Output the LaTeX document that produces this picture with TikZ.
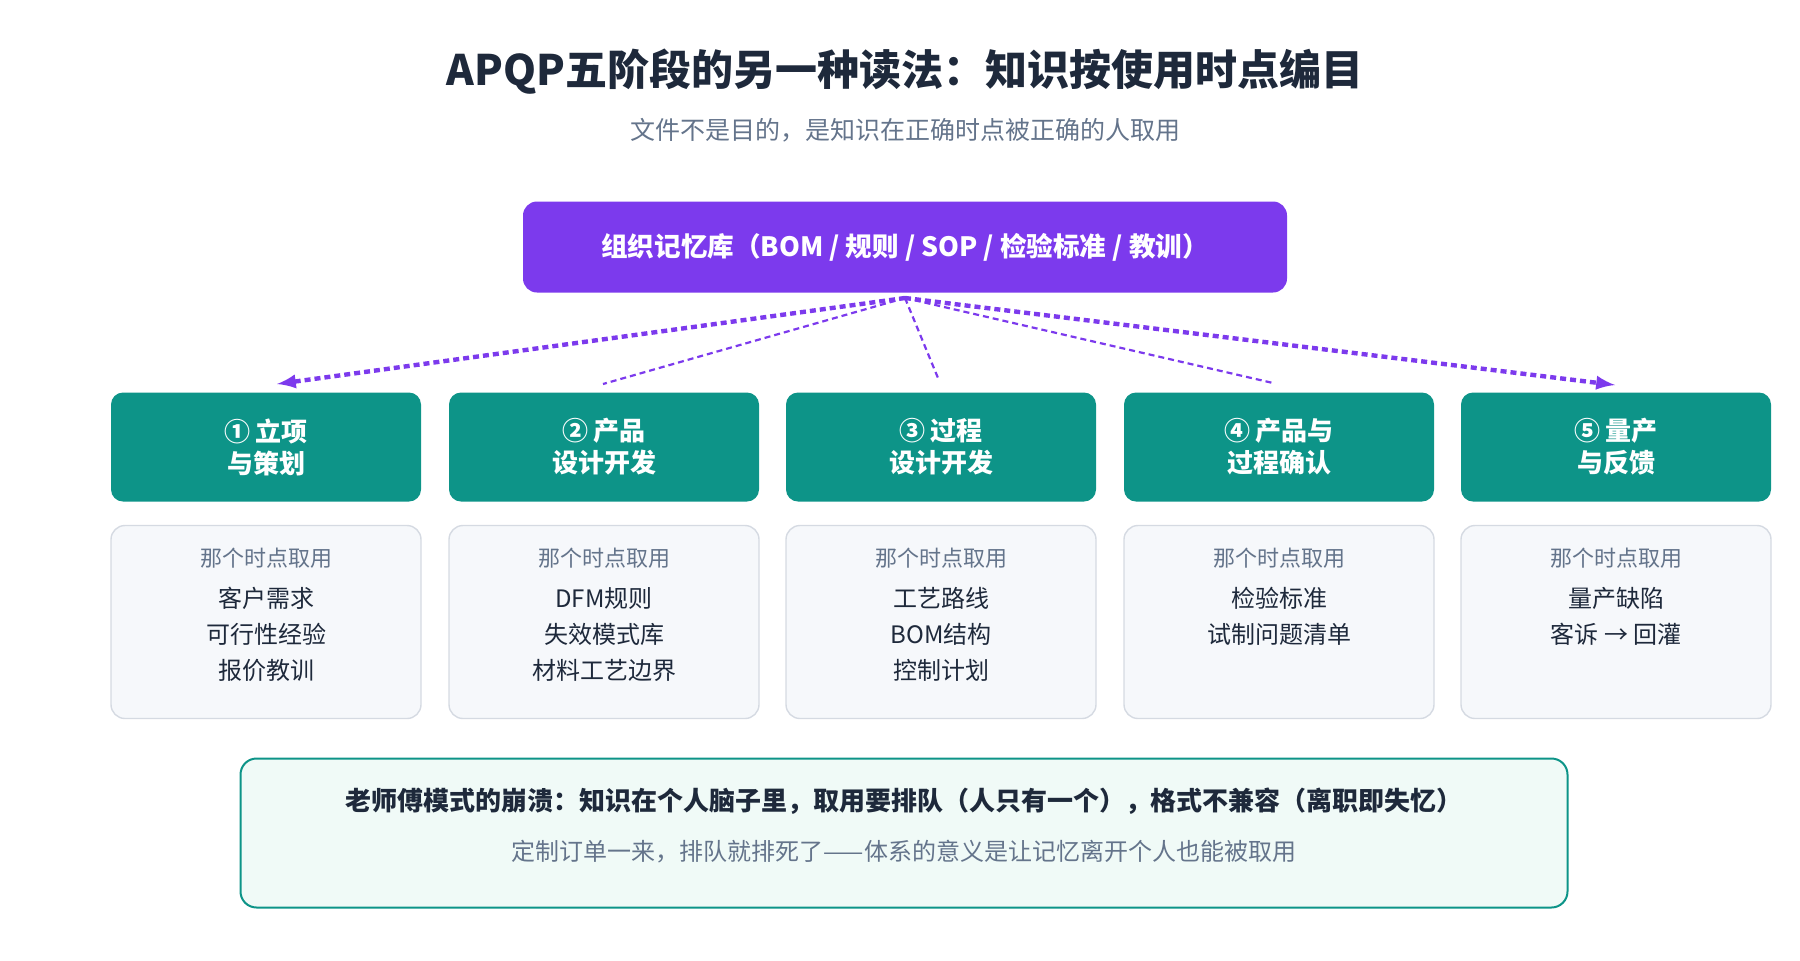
\documentclass[tikz,border=0pt]{standalone}
\usepackage{fontspec}
\setmainfont{Noto Sans CJK SC}
\usetikzlibrary{positioning}
\definecolor{ink}{HTML}{1E293B}
\definecolor{mute}{HTML}{64748B}
\definecolor{memo}{HTML}{7C3AED}
\definecolor{phase}{HTML}{0D9488}
\definecolor{cardbg}{HTML}{F6F8FB}
\definecolor{cardln}{HTML}{D5DAE2}
\definecolor{notebg}{HTML}{F0FAF7}
\begin{document}
\begin{tikzpicture}[x=0.5pt,y=-0.5pt,>=latex,
	phasebox/.style={fill=phase,rounded corners=6pt,minimum width=155pt,minimum height=54.5pt,text=white,font=\fontsize{13}{16}\selectfont\bfseries,align=center},
	card/.style={fill=cardbg,draw=cardln,line width=0.7pt,rounded corners=7pt,minimum width=155pt,minimum height=96.5pt},
	item/.style={font=\fontsize{12}{14}\selectfont,text=ink},
	link/.style={memo,densely dashed,line width=1.1pt}]
	\useasboundingbox (0,0) rectangle (1800,960);
	
	% Title
	\node[font=\fontsize{21}{25}\selectfont\bfseries,text=ink] (title) at (905,72) {APQP五阶段的另一种读法：知识按使用时点编目};
	\node[font=\fontsize{12.5}{15}\selectfont,text=mute] (sub) at (905,130) {文件不是目的，是知识在正确时点被正确的人取用};
	
	% Memory
	\node[fill=memo,rounded corners=7pt,minimum width=382pt,minimum height=45.5pt,text=white,font=\fontsize{13.3}{16}\selectfont\bfseries] (mem) at (905,247) {组织记忆库（BOM / 规则 / SOP / 检验标准 / 教训）};
	\coordinate (hub) at (905,298);
	
	% Phases
	\foreach \i/\x/\t/\a/\b/\c in {1/266/{① 立项\\与策划}/客户需求/可行性经验/报价教训,
		2/604/{② 产品\\设计开发}/DFM规则/失效模式库/材料工艺边界,
		3/941/{③ 过程\\设计开发}/工艺路线/BOM结构/控制计划,
		4/1279/{④ 产品与\\过程确认}/检验标准/试制问题清单/,
		5/1616/{⑤ 量产\\与反馈}/量产缺陷/客诉 → 回灌/}{
		\node[phasebox] (p\i) at (\x,447) {\t};
		\node[card] (c\i) at (\x,622) {};
		\node[font=\fontsize{11}{13}\selectfont,text=mute] (h\i) at (\x,558) {那个时点取用};
		\node[item] (a\i) at (\x,598) {\a};
		\node[item] (b\i) at (\x,634) {\b};
		\node[item] (d\i) at (\x,670) {\c};
	}
	
	% Links
	\coordinate (e1) at (277,384);
	\coordinate (e2) at (603,384);
	\coordinate (e3) at (938,378);
	\coordinate (e4) at (1273,383);
	\coordinate (e5) at (1615,385);
	\draw[link,->,line width=2.2pt] (hub) -- (e1);
	\draw[link] (hub) -- (e2);
	\draw[link] (hub) -- (e3);
	\draw[link] (hub) -- (e4);
	\draw[link,->,line width=2.2pt] (hub) -- (e5);
	
	% Note
	\node[fill=notebg,draw=phase,line width=1pt,rounded corners=8pt,minimum width=663.5pt,minimum height=74.5pt] (note) at (904,833) {};
	\node[font=\fontsize{13}{15}\selectfont\bfseries,text=ink] (n1) at (904,801) {老师傅模式的崩溃：知识在个人脑子里，取用要排队（人只有一个），格式不兼容（离职即失忆）};
	\node[font=\fontsize{12}{14}\selectfont,text=mute] (n2) at (904,852) {定制订单一来，排队就排死了——体系的意义是让记忆离开个人也能被取用};
\end{tikzpicture}
\end{document}
